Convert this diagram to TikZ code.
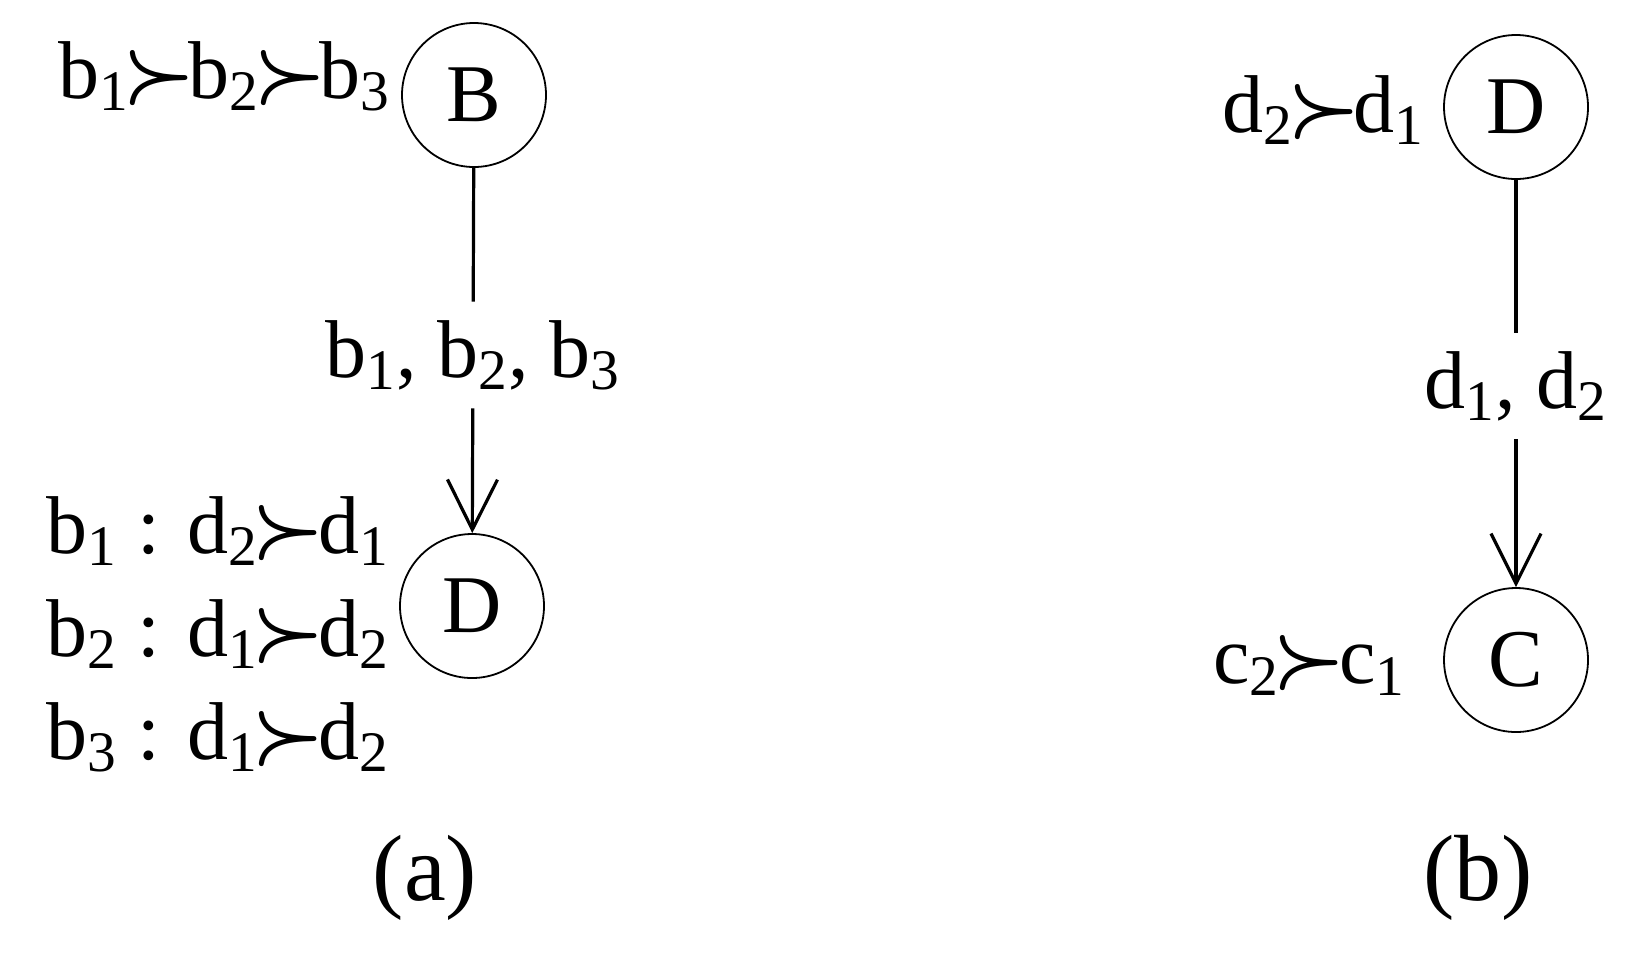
\RequirePackage{fix-cm}
\documentclass[tikz,border=0pt]{standalone}
\usepackage{bm}
\usepackage{fontspec}
\setmainfont{Liberation Serif}
\usetikzlibrary{arrows.meta,positioning}

\newcommand{\pref}{\kern-0.08em$\bm{\succ}$\kern-0.08em}
\newcommand{\idx}[1]{\textsubscript{#1}}

\begin{document}
\begin{tikzpicture}[x=0.5pt,y=-0.5pt,>={Straight Barb[length=25pt,width=25pt]},
  every node/.style={font=\fontsize{41}{49}\selectfont},
  state/.style={draw,circle,line width=0.9pt,minimum size=72pt,inner sep=0pt},
  elabel/.style={inner sep=9pt},
  link/.style={line width=1.6pt}]
\useasboundingbox (0,0) rectangle (1636,971);
% (a)
\node[state] (B) at (474,95) {B};
\node[state] (Da) at (472,606) {D};
\node[anchor=base east,inner sep=0pt] (prefB) at (391,98) {b\idx{1}\pref b\idx{2}\pref b\idx{3}};
\node[elabel,anchor=base] (labA) at (473,377) {b\idx{1}, b\idx{2}, b\idx{3}};
\node[anchor=base west,inner sep=0pt] (pb1) at (46,553) {b\idx{1} : d\idx{2}\pref d\idx{1}};
\node[anchor=base west,inner sep=0pt] (pb2) at (46,656) {b\idx{2} : d\idx{1}\pref d\idx{2}};
\node[anchor=base west,inner sep=0pt] (pb3) at (46,759) {b\idx{3} : d\idx{1}\pref d\idx{2}};
\draw[link] (B) -- (labA);
\draw[link,->] (labA) -- (Da);
\node[anchor=base,font=\fontsize{47}{56}\selectfont] (capA) at (425,900) {(a)};
% (b)
\node[state] (Db) at (1516,107) {D};
\node[state] (C) at (1516,660) {C};
\node[anchor=base east,inner sep=0pt] (prefD) at (1425,132) {d\idx{2}\pref d\idx{1}};
\node[anchor=base east,inner sep=0pt] (prefC) at (1406,683) {c\idx{2}\pref c\idx{1}};
\node[elabel,anchor=base] (labB) at (1516,408) {d\idx{1}, d\idx{2}};
\draw[link] (Db) -- (labB);
\draw[link,->] (labB) -- (C);
\node[anchor=base,font=\fontsize{47}{56}\selectfont] (capB) at (1478,900) {(b)};
\end{tikzpicture}
\end{document}
